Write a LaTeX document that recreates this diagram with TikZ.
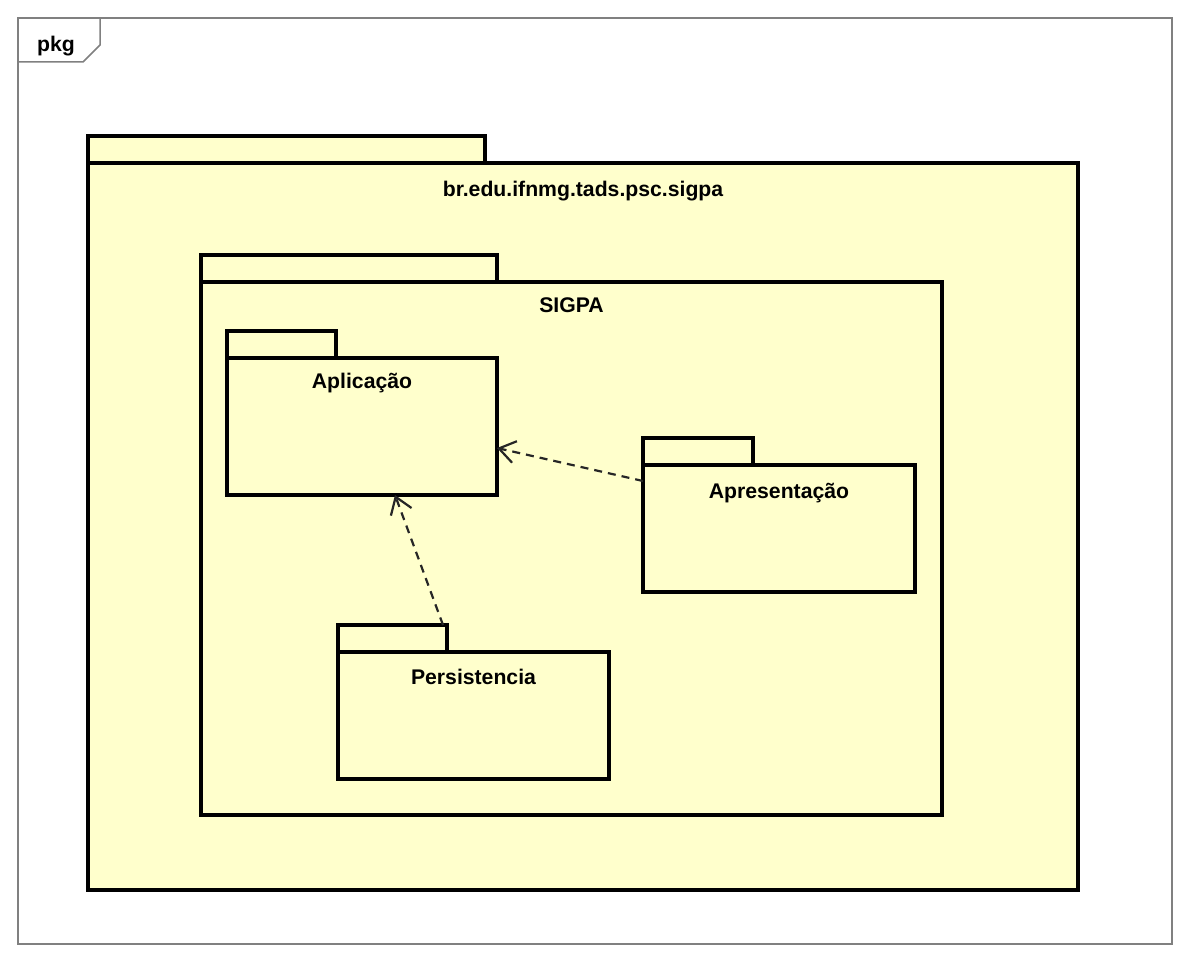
\documentclass[tikz,border=0pt]{standalone}
\usepackage{fontspec}
\setmainfont{Liberation Sans}
\usetikzlibrary{arrows.meta,calc}
\definecolor{pkgfill}{RGB}{255,255,204}
\tikzset{
  pkgbody/.style={draw, fill=pkgfill, line width=1.75pt, inner sep=0pt, outer sep=0pt, anchor=north west},
  pkgtab/.style={pkgbody, anchor=south west, minimum height=13.5pt},
  pkgname/.style={font=\bfseries\fontsize{10.6pt}{12pt}\selectfont, anchor=base},
  dep/.style={line width=1.1pt, draw=black!85, dash pattern=on 4pt off 3pt, -{Straight Barb[length=8pt,width=11pt]}}
}
\begin{document}
\begin{tikzpicture}[x=0.5pt,y=-0.5pt]
\useasboundingbox[fill=white] (0,0) rectangle (1190,963);
% diagram frame
\draw[gray, line width=0.75pt] (18,18) rectangle (1172,944);
\draw[gray, line width=0.75pt] (18,62) -- (83,62) -- (100,45) -- (100,18);
\node[pkgname] (pkglbl) at (56,52) {pkg};
% outer package
\node[pkgbody, minimum width=495pt, minimum height=363.5pt] (root) at (88,163) {};
\node[pkgtab, minimum width=198.5pt] (roottab) at (root.north west) {};
\node[pkgname] (rootname) at ($(root.north)+(0,34)$) {br.edu.ifnmg.tads.psc.sigpa};
% SIGPA
\node[pkgbody, minimum width=370.5pt, minimum height=266.5pt] (sigpa) at (201,282) {};
\node[pkgtab, minimum width=148pt] (sigpatab) at (sigpa.north west) {};
\node[pkgname] (sigpaname) at ($(sigpa.north)+(0,31)$) {SIGPA};
% inner packages
\node[pkgbody, minimum width=135pt, minimum height=68.5pt] (apl) at (227,358) {};
\node[pkgtab, minimum width=54.5pt] (apltab) at (apl.north west) {};
\node[pkgname] (aplname) at ($(apl.north)+(0,30)$) {Aplicação};
\node[pkgbody, minimum width=136pt, minimum height=63.5pt] (apr) at (643,465) {};
\node[pkgtab, minimum width=55pt] (aprtab) at (apr.north west) {};
\node[pkgname] (aprname) at ($(apr.north)+(0,33)$) {Apresentação};
\node[pkgbody, minimum width=135.5pt, minimum height=63.5pt] (per) at (338,652) {};
\node[pkgtab, minimum width=54.5pt] (pertab) at (per.north west) {};
\node[pkgname] (pername) at ($(per.north)+(0,32)$) {Persistencia};
% dependencies
\draw[dep] ([yshift=-8pt]apr.north west) -- ([yshift=-45pt]apl.north east);
\draw[dep] ([xshift=-2pt]pertab.north east) -- ([xshift=16.5pt]apl.south);
\end{tikzpicture}
\end{document}
